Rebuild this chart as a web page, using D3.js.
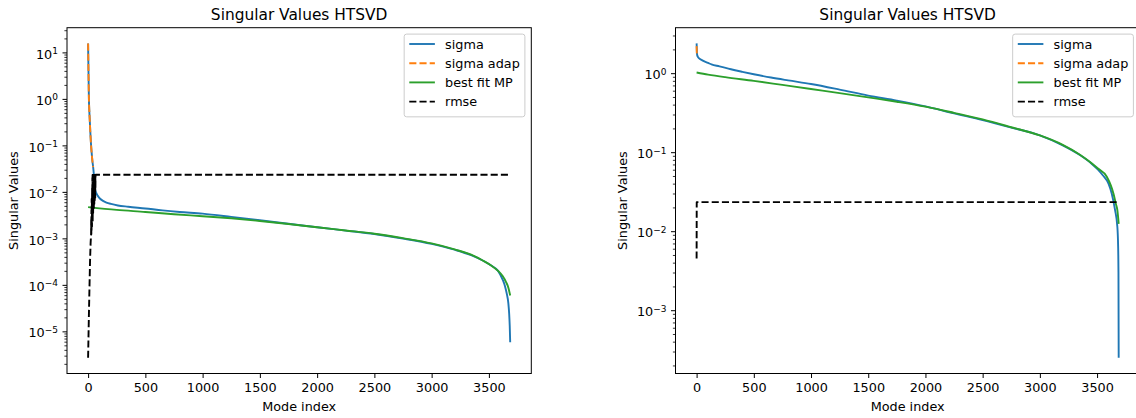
<!DOCTYPE html>
<html><head><meta charset="utf-8">
<script src="https://cdn.jsdelivr.net/npm/d3@7/dist/d3.min.js"></script>
<style>
body{margin:0;background:#fff;}
svg{display:block;}
text{font-family:"DejaVu Sans",sans-serif;fill:#000;}
</style>
</head><body>
<svg id="chart" width="1136" height="418"></svg>
<script>
// ---------------- data ----------------
const titleText = "Singular Values HTSVD";
const xLabelText = "Mode index";
const yLabelText = "Singular Values";
const legendLabels = ["sigma", "sigma adap", "best fit MP", "rmse"];
const xTickValues = [0, 500, 1000, 1500, 2000, 2500, 3000, 3500];
const leftYTickExps = [-5, -4, -3, -2, -1, 0, 1];
const rightYTickExps = [-3, -2, -1, 0];

// left panel
const leftSigmaIdx = [0,2,4,7,10,15,20,26,32,38,44,50,56,62,70,85,105,130,160,200,260,350,500,650,800,1000,1250,1500,1750,2000,2250,2500,2750,3000,3200,3350,3450,3520,3580,3620,3640,3657,3670,3677,3682,3686];
const leftSigmaVal = [15.6,6.5,3.0,1.0,0.6,0.33,0.18,0.1,0.065,0.045,0.034,0.024,0.016,0.011,0.0096,0.0082,0.0071,0.0064,0.0059,0.0055,0.0051,0.0048,0.0044,0.004,0.0037,0.0034,0.0029,0.00245,0.00206,0.00173,0.00147,0.00124,0.00099,0.00076,0.00057,0.00043,0.00033,0.00026,0.0002,0.00013,0.000095,0.000063,0.00004,0.000024,0.000013,0.0000058];
const leftAdapIdx = [0,2,4,7,10,15,20,26,32,38,44];
const leftAdapVal = [15.6,6.5,3.0,1.0,0.6,0.33,0.18,0.1,0.065,0.045,0.034];
const leftFitIdx = [0,250,500,750,1000,1250,1500,1750,2000,2250,2500,2750,3000,3200,3350,3450,3520,3580,3620,3650,3670,3686];
const leftFitVal = [0.0047,0.0041,0.0037,0.0033,0.003,0.0027,0.00237,0.00204,0.00173,0.00148,0.00126,0.00101,0.00078,0.00058,0.00044,0.00033,0.00026,0.0002,0.000155,0.000115,0.000087,0.000059];
const leftRmseIdx = [0,6,12,17,22,26,27,28,29,30,31,32,33,34,35,36,37,38,39,40,41,42,43,44,45,46,47,48,49,50,51,52,53,54,55,56,57,58,59,60,61,62,63,64,65,66,3686];
const leftRmseVal = [0.0000027,0.000017,0.00009,0.00033,0.0008,0.0012,0.0025,0.0012,0.004,0.0015,0.007,0.002,0.006,0.0018,0.012,0.0025,0.02,0.003,0.023,0.0022,0.023,0.004,0.023,0.0035,0.023,0.005,0.023,0.006,0.023,0.0045,0.023,0.007,0.023,0.0055,0.023,0.008,0.023,0.006,0.023,0.009,0.023,0.0075,0.023,0.012,0.023,0.0233,0.0233];

// right panel
const rightSigmaIdx = [0,1,2,3,5,10,20,50,100,130,200,300,400,500,650,800,1000,1250,1500,1750,2000,2250,2500,2750,3000,3200,3350,3450,3508,3550,3600,3628,3657,3677,3684,3687,3689];
const rightSigmaVal = [2.38,2.2,1.95,1.8,1.7,1.62,1.55,1.45,1.35,1.29,1.22,1.12,1.04,0.97,0.88,0.81,0.73,0.62,0.52,0.45,0.38,0.31,0.255,0.205,0.163,0.122,0.092,0.072,0.06,0.051,0.04,0.03,0.0186,0.0115,0.0065,0.003,0.00025];
const rightAdapIdx = [0,1,2,3];
const rightAdapVal = [2.2,1.95,1.8,1.74];
const rightFitIdx = [0,100,250,500,750,1000,1250,1500,1750,2000,2250,2500,2750,3000,3200,3350,3450,3508,3585,3620,3643,3665,3677,3689];
const rightFitVal = [1.02,0.96,0.89,0.8,0.71,0.63,0.56,0.494,0.435,0.377,0.315,0.26,0.207,0.163,0.124,0.093,0.073,0.062,0.049,0.038,0.03,0.022,0.0186,0.0124];
const rightRmseIdx = [0,1,3686];
const rightRmseVal = [0.0045,0.0233,0.0233];

// ---------------- style ----------------
const FS = 12.8, TITLE_FS = 15.4, SUP_FS = 9;
const LW = 1.9, DASH = "7.1,3.1";
const colors = {sigma:"#1f77b4", adap:"#ff7f0e", fit:"#2ca02c", rmse:"#000000"};

const svg = d3.select("#chart");

function zip(a, b){ return a.map((v,i)=>[v, b[i]]); }

function drawPanel(cfg){
  const {left, right, top, bottom} = cfg;
  const g = svg.append("g");
  const series = [
    {name:legendLabels[0], data:zip(cfg.sigmaIdx, cfg.sigmaVal), color:colors.sigma, dash:null, curve:d3.curveMonotoneX},
    {name:legendLabels[1], data:zip(cfg.adapIdx, cfg.adapVal), color:colors.adap, dash:DASH, curve:d3.curveMonotoneX},
    {name:legendLabels[2], data:zip(cfg.fitIdx, cfg.fitVal), color:colors.fit, dash:null, curve:d3.curveMonotoneX},
    {name:legendLabels[3], data:zip(cfg.rmseIdx, cfg.rmseVal), color:colors.rmse, dash:DASH, curve:d3.curveLinear}
  ];
  const all = series.flatMap(s=>s.data);
  const xMin = d3.min(all, d=>d[0]), xMax = d3.max(all, d=>d[0]);
  const xm = (xMax - xMin) * 0.05;
  const lMin = Math.log10(d3.min(all, d=>d[1])), lMax = Math.log10(d3.max(all, d=>d[1]));
  const lm = (lMax - lMin) * 0.05;
  const x = d3.scaleLinear().domain([xMin - xm, xMax + xm]).range([left, right]);
  const y = d3.scaleLog().domain([Math.pow(10, lMin - lm), Math.pow(10, lMax + lm)]).range([bottom, top]);

  // lines
  series.forEach(s=>{
    const line = d3.line().x(d=>x(d[0])).y(d=>y(d[1])).curve(s.curve);
    g.append("path").attr("d", line(s.data)).attr("fill","none")
      .attr("stroke", s.color).attr("stroke-width", LW)
      .attr("stroke-dasharray", s.dash)
      .attr("stroke-linejoin","round");
  });

  // x axis
  const xa = g.append("g").attr("transform",`translate(0,${bottom})`)
    .call(d3.axisBottom(x).tickValues(xTickValues).tickFormat(d3.format("d")).tickSize(4.5).tickPadding(4.5).tickSizeOuter(0));
  xa.select(".domain").remove();
  xa.selectAll("text").attr("font-size", FS).attr("font-family","DejaVu Sans").attr("dy","0.78em");
  xa.selectAll("line").attr("stroke-width",1);

  // y axis majors
  const majors = cfg.yExps.map(e=>Math.pow(10,e));
  const ya = g.append("g").attr("transform",`translate(${left},0)`)
    .call(d3.axisLeft(y).tickValues(majors).tickSize(4.5).tickPadding(4.5).tickSizeOuter(0));
  ya.select(".domain").remove();
  ya.selectAll("line").attr("stroke-width",1);
  ya.selectAll("text").attr("font-size", FS).attr("font-family","DejaVu Sans").attr("dy","0.44em")
    .each(function(d){
      const t = d3.select(this); t.text(null);
      const e = Math.round(Math.log10(d));
      t.append("tspan").text("10");
      t.append("tspan").attr("font-size", SUP_FS).attr("dy", -4.6).text(e < 0 ? "\u2212" + (-e) : String(e));
    });

  // y minor ticks
  const [d0, d1] = y.domain();
  const minors = [];
  for (let e = Math.floor(Math.log10(d0)); e <= Math.ceil(Math.log10(d1)); e++)
    for (let k = 2; k <= 9; k++){ const v = k*Math.pow(10,e); if (v >= d0 && v <= d1) minors.push(v); }
  const ym = g.append("g").attr("transform",`translate(${left},0)`)
    .call(d3.axisLeft(y).tickValues(minors).tickFormat("").tickSize(2.6).tickSizeOuter(0));
  ym.select(".domain").remove();
  ym.selectAll("line").attr("stroke-width",0.8);

  // frame
  g.append("rect").attr("x",left).attr("y",top).attr("width",right-left).attr("height",bottom-top)
    .attr("fill","none").attr("stroke","#000").attr("stroke-width",1);

  // title & labels
  const cx = (left+right)/2;
  g.append("text").attr("x",cx).attr("y",19.5).attr("text-anchor","middle").attr("font-size",TITLE_FS).text(titleText);
  g.append("text").attr("x",cx).attr("y",410.5).attr("text-anchor","middle").attr("font-size",FS).text(xLabelText);
  g.append("text").attr("transform",`translate(${left-49},${(top+bottom)/2}) rotate(-90)`)
    .attr("text-anchor","middle").attr("font-size",FS).text(yLabelText);

  // legend
  const pad = 0.4*FS, hl = 2*FS, htp = 0.8*FS, axpad = 0.5*FS, rowH = 19.2;
  const lg = g.append("g");
  const box = lg.append("rect");
  const texts = series.map((s,i)=>lg.append("text").attr("font-size",FS).attr("dy","0.36em").text(s.name));
  const maxW = d3.max(texts, t=>t.node().getComputedTextLength());
  const bw = pad*2 + hl + htp + maxW;
  const bx = right - axpad - bw, by = top + axpad;
  const bh = pad*2 + rowH*(series.length) - 4.3;
  box.attr("x",bx).attr("y",by).attr("width",bw).attr("height",bh).attr("rx",2.5)
    .attr("fill","#fff").attr("fill-opacity",0.8).attr("stroke","#cccccc").attr("stroke-width",1);
  series.forEach((s,i)=>{
    const ry = by + 9.9 + i*rowH;
    lg.append("line").attr("x1",bx+pad).attr("x2",bx+pad+hl).attr("y1",ry).attr("y2",ry)
      .attr("stroke",s.color).attr("stroke-width",LW).attr("stroke-dasharray",s.dash);
    texts[i].attr("x",bx+pad+hl+htp).attr("y",ry);
  });
}

drawPanel({left:67, right:531.3, top:27.7, bottom:373.5, yExps:leftYTickExps,
  sigmaIdx:leftSigmaIdx, sigmaVal:leftSigmaVal, adapIdx:leftAdapIdx, adapVal:leftAdapVal,
  fitIdx:leftFitIdx, fitVal:leftFitVal, rmseIdx:leftRmseIdx, rmseVal:leftRmseVal});
drawPanel({left:675.5, right:1139.8, top:27.7, bottom:373.5, yExps:rightYTickExps,
  sigmaIdx:rightSigmaIdx, sigmaVal:rightSigmaVal, adapIdx:rightAdapIdx, adapVal:rightAdapVal,
  fitIdx:rightFitIdx, fitVal:rightFitVal, rmseIdx:rightRmseIdx, rmseVal:rightRmseVal});
</script>
</body></html>
